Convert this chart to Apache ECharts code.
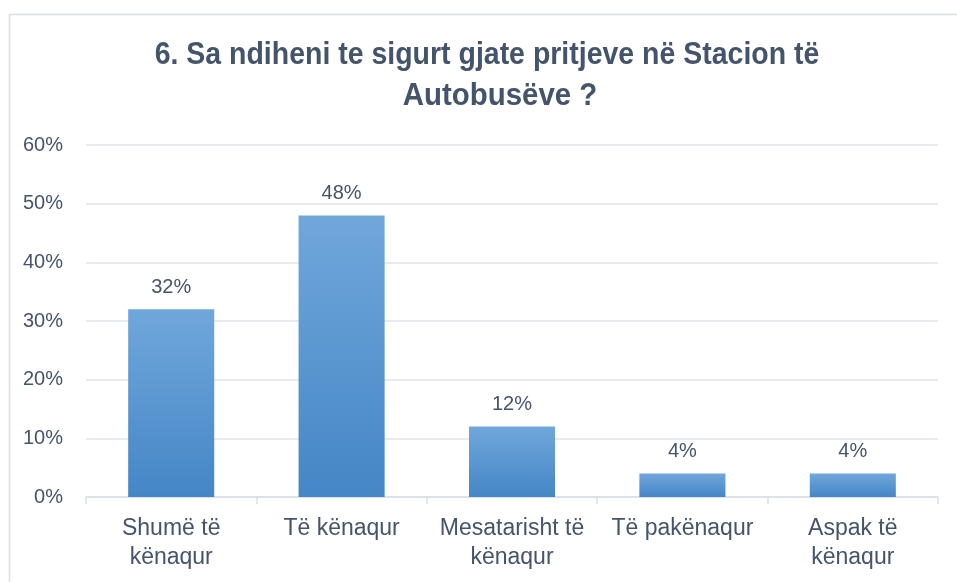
<!DOCTYPE html>
<html>
<head>
<meta charset="utf-8">
<script src="https://cdn.jsdelivr.net/npm/echarts@6/dist/echarts.min.js"></script>
<style>
html,body{margin:0;padding:0;background:#fff;}
#main{width:957px;height:582px;}
</style>
</head>
<body>
<div id="main"></div>
<script>
const titleLines = ["6. Sa ndiheni te sigurt gjate pritjeve në Stacion të", "Autobusëve ?"];
const categories = ["Shumë të\nkënaqur", "Të kënaqur", "Mesatarisht të\nkënaqur", "Të pakënaqur", "Aspak të\nkënaqur"];
const values = [32, 48, 12, 4, 4];
const yMin = 0, yMax = 60, yStep = 10;

const textColor = "#44546A";
const fontFam = '"Liberation Sans", Arial, sans-serif';
const chart = echarts.init(document.getElementById('main'), null, {renderer: 'canvas'});
chart.setOption({
  backgroundColor: '#ffffff',
  animation: false,
  graphic: [
    {
      type: 'rect', left: 7, top: 12, silent: true, z: -1,
      shape: {width: 1000, height: 620},
      style: {fill: 'none', stroke: '#d9dee6', lineWidth: 1.5}
    },
    {
      type: 'text', x: 487, y: 55, scaleX: 0.89, silent: true,
      style: {text: titleLines[0], fill: textColor, font: 'bold 32px "Liberation Sans", Arial, sans-serif',
              textAlign: 'center', textVerticalAlign: 'middle'}
    },
    {
      type: 'text', x: 500, y: 96, scaleX: 0.92, silent: true,
      style: {text: titleLines[1], fill: textColor, font: 'bold 32px "Liberation Sans", Arial, sans-serif',
              textAlign: 'center', textVerticalAlign: 'middle'}
    }
  ],
  grid: {left: 86, right: 19, top: 145, bottom: 85, containLabel: false},
  xAxis: {
    type: 'category',
    data: categories,
    axisLine: {lineStyle: {color: '#d9dee6', width: 1.5}},
    axisTick: {show: true, alignWithLabel: false, length: 7, lineStyle: {color: '#d9dee6', width: 1.5}},
    axisLabel: {
      color: textColor, fontSize: 23, margin: 17, lineHeight: 29,
      fontFamily: fontFam, interval: 0
    }
  },
  yAxis: {
    type: 'value', min: yMin, max: yMax, interval: yStep,
    axisLine: {show: false}, axisTick: {show: false},
    splitLine: {lineStyle: {color: '#dfe3ea', width: 1.5}},
    axisLabel: {
      formatter: '{value}%', color: textColor, fontSize: 20, margin: 23,
      fontFamily: fontFam
    }
  },
  series: [{
    type: 'bar',
    data: values,
    barWidth: '50.5%',
    itemStyle: {
      color: new echarts.graphic.LinearGradient(0, 0, 0, 1, [
        {offset: 0, color: '#70a7db'},
        {offset: 1, color: '#4586c6'}
      ])
    },
    label: {
      show: true, position: 'top', distance: 12,
      formatter: '{c}%', color: textColor, fontSize: 20,
      fontFamily: fontFam
    }
  }]
});
</script>
</body>
</html>
